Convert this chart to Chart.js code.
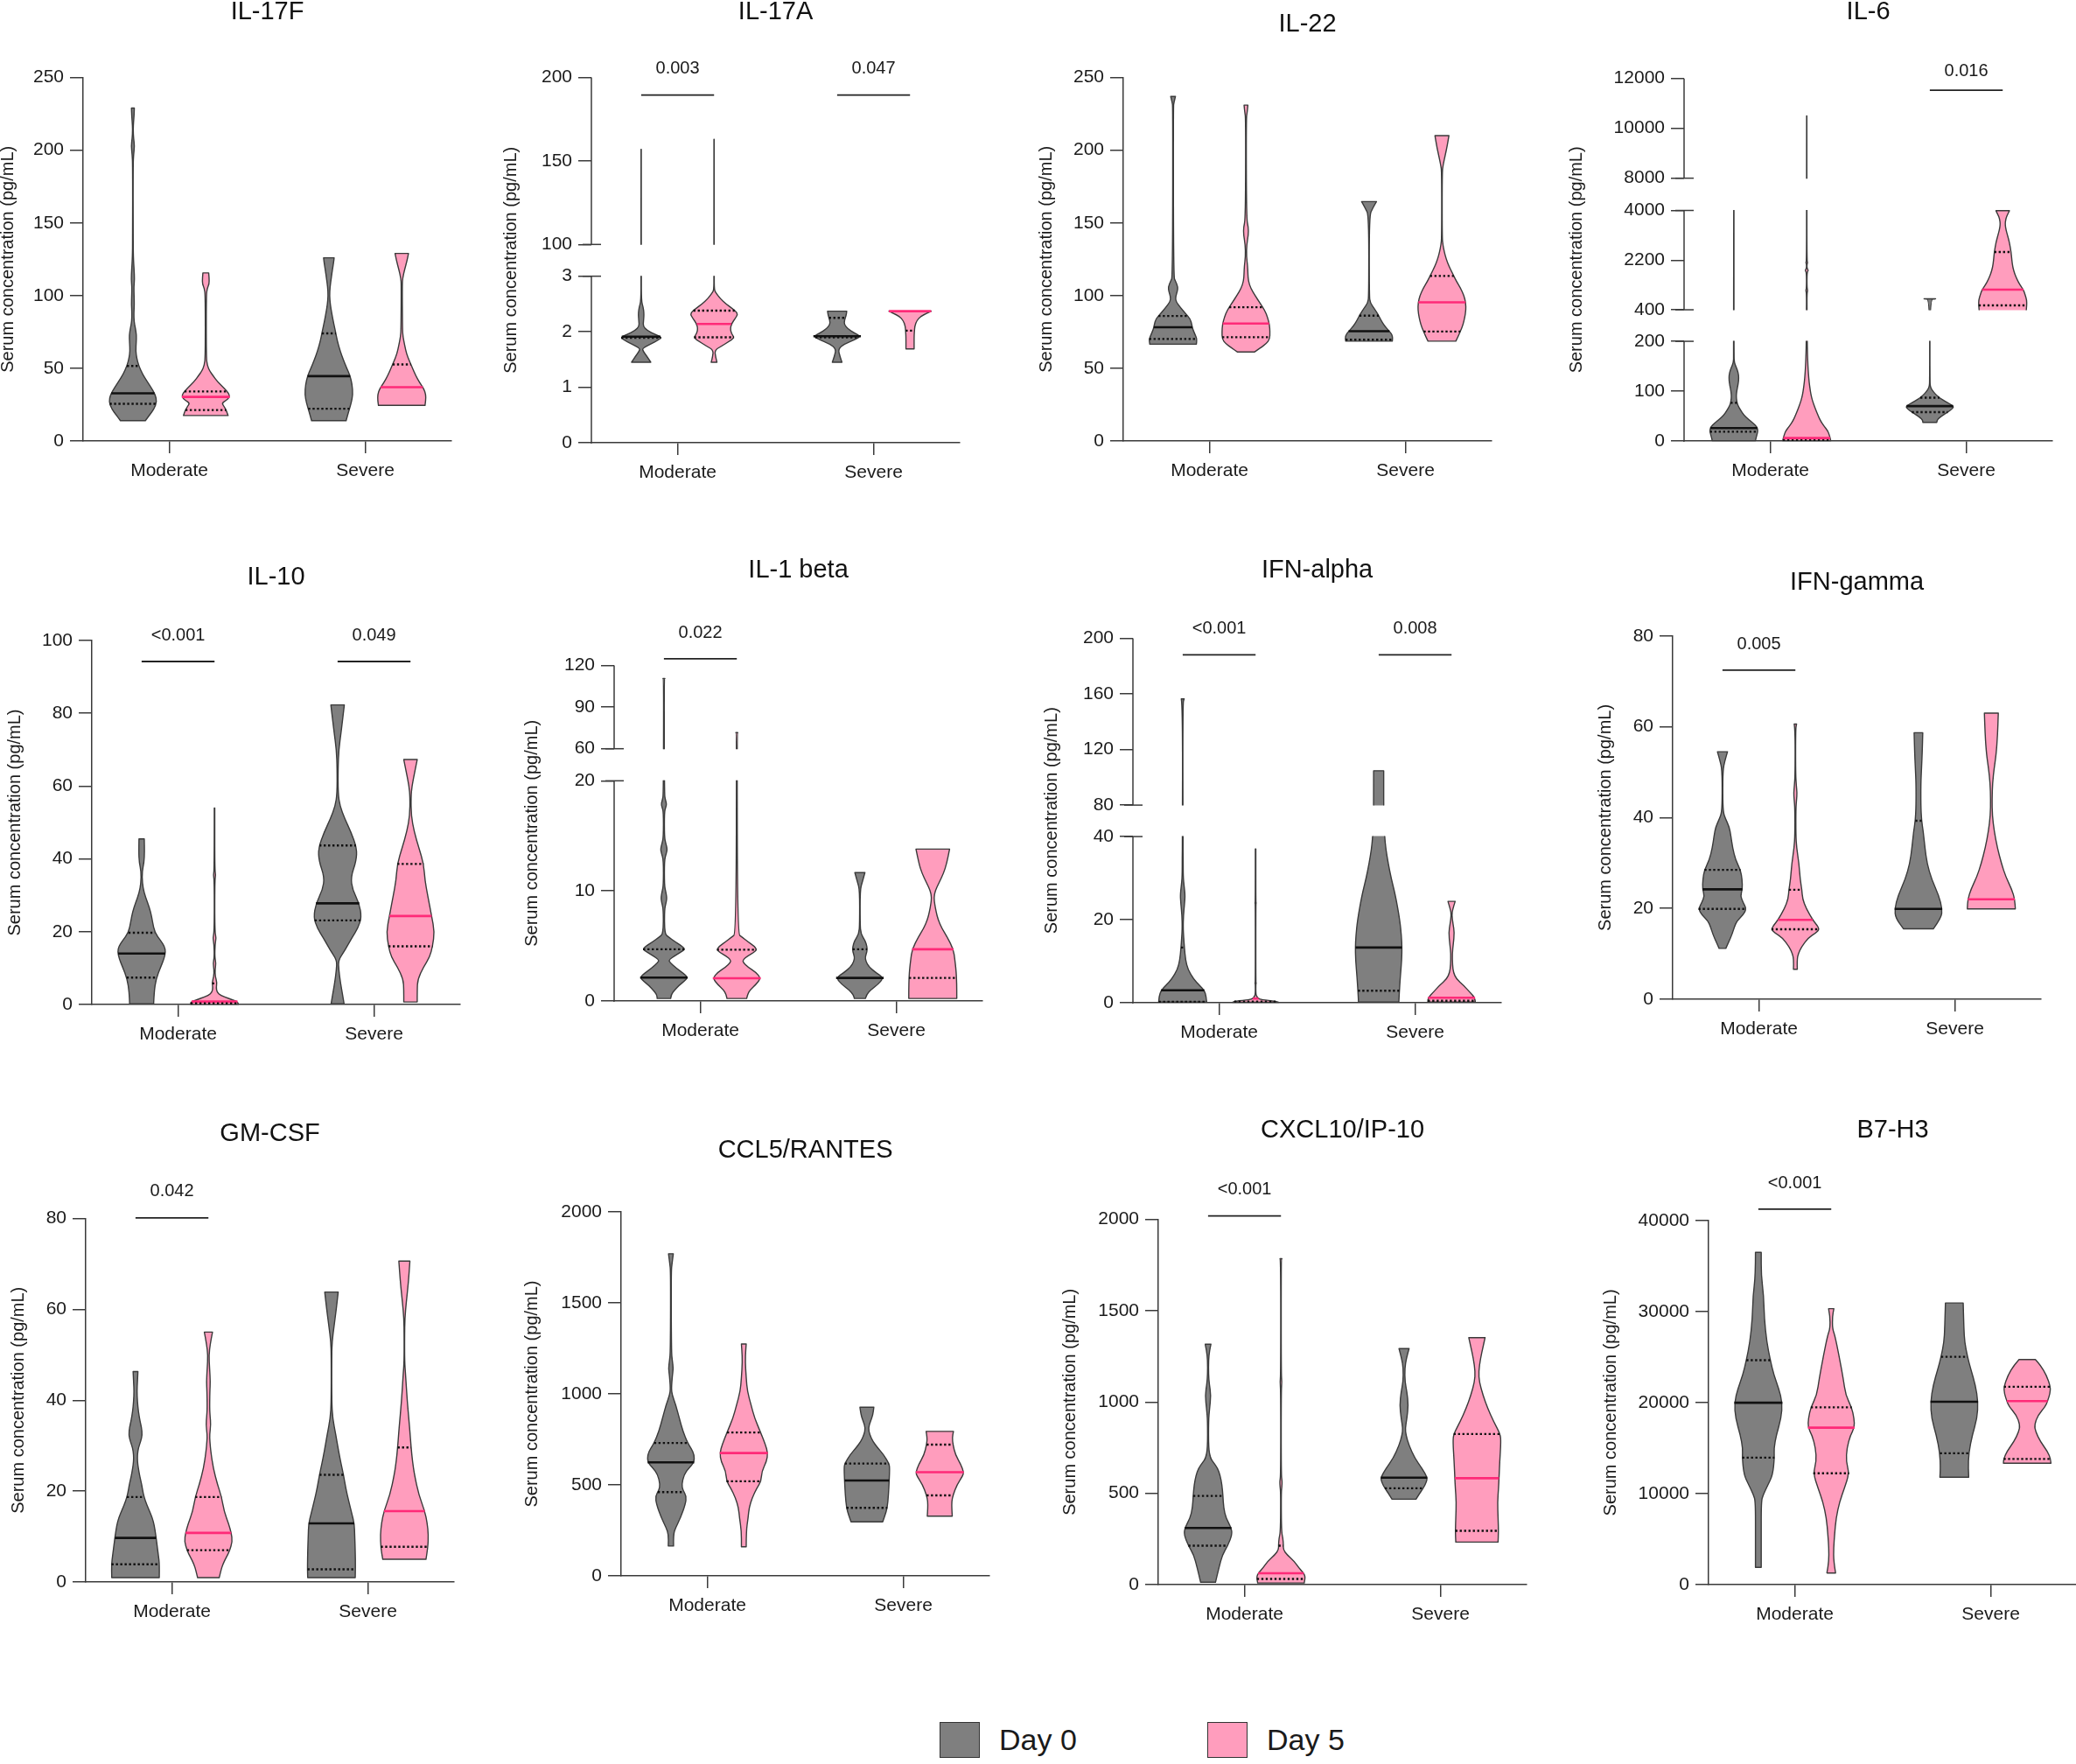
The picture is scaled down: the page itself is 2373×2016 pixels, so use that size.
<!DOCTYPE html>
<html><head><meta charset="utf-8">
<script src="https://cdn.jsdelivr.net/npm/chart.js@4.4.1/dist/chart.umd.min.js"></script>
<style>
html,body{margin:0;padding:0;background:#fff;}
body{width:2373px;height:2016px;position:relative;overflow:hidden;font-family:'Liberation Sans',Arial,sans-serif;}
canvas{position:absolute;}
.lg-box{position:absolute;box-sizing:border-box;border:1.5px solid #333;}
.lg-txt{position:absolute;font-size:34px;line-height:44px;color:#1a1a1a;white-space:nowrap;}
</style>
</head><body>
<script>
// ================= DATA =================
const CATEGORIES = ['Moderate', 'Severe'];
const SERIES = ['Day 0', 'Day 5'];
const Y_TITLE = 'Serum concentration (pg/mL)';
// violin profiles: [value, relative half-width 0..1]; stats order: [Day0 Mod, Day5 Mod, Day0 Sev, Day5 Sev]

// ---- IL-17F ----
const IL17F_TICKS = [0, 50, 100, 150, 200, 250];
const IL17F_D0_MOD = [[14,0.52],[18,0.7],[22,0.88],[27,1.0],[32,0.93],[37,0.75],[41,0.59],[46,0.4],[52,0.24],[57,0.16],[62,0.12],[68,0.14],[73,0.15],[78,0.1],[82,0.05],[88,0.04],[94,0.06],[100,0.05],[106,0.04],[111,0.07],[118,0.05],[126,0.02],[140,0.01],[190,0.01],[197,0.03],[203,0.07],[208,0.03],[214,0.01],[220,0.03],[224,0.05],[229,0.06]];
const IL17F_D5_MOD = [[17.5,0.93],[21,0.86],[24,0.75],[26,0.67],[28,0.85],[30,1.0],[33,0.95],[36,0.78],[41,0.48],[45,0.3],[48,0.17],[52,0.06],[58,0.02],[100,0.02],[105,0.06],[108,0.14],[112,0.14],[115.6,0.12]];
const IL17F_D0_SEV = [[14,0.72],[20,0.82],[26,0.93],[32,1.0],[39,0.97],[45,0.88],[50,0.75],[56,0.6],[62,0.47],[69,0.35],[75,0.28],[81,0.2],[88,0.12],[94,0.06],[100,0.03],[106,0.05],[112,0.1],[118,0.15],[123,0.2],[126,0.22]];
const IL17F_D5_SEV = [[24.5,0.97],[28,1.0],[32,1.0],[36,0.92],[40,0.75],[45,0.58],[50,0.45],[55,0.32],[60,0.2],[66,0.12],[72,0.05],[77,0.03],[108,0.02],[112,0.04],[118,0.12],[124,0.22],[129,0.28]];
const IL17F_MEDIAN = [32.8, 30.3, 44.6, 37];
const IL17F_Q1 = [25.6, 21.3, 22.2, null];
const IL17F_Q3 = [51.6, 34.1, 74, 52.7];
const IL17F_P = [null, null];

// ---- IL-17A ----
const IL17A_TICKS = [0, 1, 2, 3, 100, 150, 200];
const IL17A_D0_MOD = [[1.45,0.4],[1.55,0.25],[1.65,0.08],[1.7,0.05],[1.78,0.4],[1.85,0.72],[1.9,0.86],[1.95,0.6],[2.02,0.25],[2.1,0.08],[2.2,0.1],[2.33,0.12],[2.45,0.08],[2.55,0.01],[3.0,0.005],[157,0.005]];
const IL17A_D5_MOD = [[1.45,0.12],[1.55,0.06],[1.67,0.03],[1.75,0.35],[1.82,0.6],[1.89,0.85],[1.97,0.72],[2.05,0.68],[2.14,0.72],[2.25,0.9],[2.33,1.0],[2.42,0.75],[2.5,0.5],[2.6,0.25],[2.7,0.08],[2.75,0.01],[3.0,0.005],[163,0.005]];
const IL17A_D0_SEV = [[1.45,0.2],[1.55,0.12],[1.69,0.04],[1.78,0.3],[1.86,0.75],[1.92,0.99],[1.98,0.7],[2.05,0.45],[2.13,0.3],[2.2,0.3],[2.3,0.38],[2.37,0.4]];
const IL17A_D5_SEV = [[1.69,0.17],[1.8,0.17],[1.9,0.17],[2.0,0.18],[2.1,0.2],[2.2,0.28],[2.28,0.45],[2.33,0.7],[2.37,0.88]];
const IL17A_MEDIAN = [1.91, 2.14, 1.92, 2.37];
const IL17A_Q1 = [1.89, 1.9, 1.9, 2.02];
const IL17A_Q3 = [null, 2.38, 2.25, null];
const IL17A_P = ['0.003', '0.047'];

// ---- IL-22 ----
const IL22_TICKS = [0, 50, 100, 150, 200, 250];
const IL22_D0_MOD = [[66.6,0.97],[70,1.0],[73,0.92],[77,0.82],[80,0.78],[84,0.72],[88,0.5],[92,0.3],[96,0.12],[99,0.1],[103,0.18],[106,0.2],[110,0.1],[113,0.02],[230,0.01],[233,0.04],[237,0.1]];
const IL22_D5_MOD = [[61.2,0.35],[64,0.6],[67,0.85],[70,0.99],[75,1.0],[80,0.98],[85,0.9],[90,0.78],[95,0.58],[100,0.38],[105,0.2],[110,0.1],[115,0.08],[120,0.07],[127,0.02],[135,0.03],[142,0.1],[147,0.1],[153,0.02],[222,0.01],[226,0.05],[231,0.08]];
const IL22_D0_SEV = [[68.7,0.97],[72,1.0],[75.5,0.85],[79,0.65],[83,0.5],[87,0.38],[91,0.22],[95,0.05],[100,0.01],[155,0.01],[160,0.15],[164.7,0.31]];
const IL22_D5_SEV = [[68.7,0.58],[72,0.68],[76,0.78],[80,0.88],[85,0.95],[90,1.0],[95,0.99],[100,0.92],[105,0.78],[110,0.6],[115,0.45],[120,0.3],[125,0.18],[130,0.1],[135,0.04],[140,0.01],[185,0.01],[190,0.05],[196,0.13],[203,0.22],[210,0.29]];
const IL22_MEDIAN = [78.2, 80.8, 75.5, 95.4];
const IL22_Q1 = [70.2, 71.4, 69.7, 75.3];
const IL22_Q3 = [86, 92, 86.2, 113.5];
const IL22_P = [null, null];

// ---- IL-6 ----
const IL6_TICKS = [0, 100, 200, 400, 2200, 4000, 8000, 10000, 12000];
const IL6_D0_MOD = [[0.5,0.9],[5,0.92],[12,0.96],[20,1.0],[28,0.97],[36,0.8],[44,0.6],[52,0.42],[62,0.28],[72,0.16],[80,0.12],[90,0.1],[100,0.12],[112,0.17],[122,0.2],[132,0.2],[142,0.15],[150,0.08],[158,0.02],[170,0.005],[4000,0.005]];
const IL6_D5_MOD = [[0.5,1.0],[5,0.98],[12,0.94],[20,0.88],[30,0.72],[40,0.58],[50,0.48],[62,0.38],[75,0.28],[87,0.2],[100,0.15],[118,0.1],[135,0.07],[150,0.05],[175,0.03],[200,0.02],[400,0.01],[1000,0.01],[1100,0.04],[1200,0.01],[1750,0.01],[1830,0.07],[1900,0.01],[2050,0.01],[2110,0.04],[2170,0.01],[4000,0.005],[10500,0.005]];
const IL6_D0_SEV = [[37.4,0.29],[42,0.3],[47,0.4],[52,0.55],[58,0.75],[64,0.92],[69,1.0],[74,0.85],[80,0.62],[86,0.42],[92,0.28],[98,0.16],[104,0.07],[110,0.02],[120,0.005],[788,0.005],[790,0.24],[796,0.24]];
const IL6_D5_SEV = [[350,0.98],[400,0.98],[550,1.0],[760,1.0],[950,0.93],[1131,0.86],[1300,0.72],[1491,0.6],[1700,0.5],[1941,0.42],[2200,0.38],[2493,0.35],[2841,0.28],[3100,0.2],[3290,0.14],[3500,0.1],[3700,0.13],[3850,0.2],[3990,0.28]];
const IL6_MEDIAN = [26, 6, 70, 1131];
const IL6_Q1 = [18.7, 1.5, 58, 557];
const IL6_Q3 = [76.6, null, 87, 2493];
const IL6_P = [null, '0.016'];

// ---- IL-10 ----
const IL10_TICKS = [0, 20, 40, 60, 80, 100];
const IL10_D0_MOD = [[0.2,0.5],[3.4,0.52],[7,0.6],[10.4,0.8],[12.5,0.93],[14.5,1.0],[16,0.95],[17.5,0.8],[19.7,0.55],[22.8,0.45],[25.4,0.38],[28,0.25],[30.7,0.1],[33.4,0.03],[36.5,0.02],[39,0.1],[42,0.12],[45.5,0.11]];
const IL10_D5_MOD = [[0,0.99],[0.7,1.0],[1.6,0.6],[2.5,0.25],[3.4,0.1],[4.7,0.07],[6,0.1],[7.8,0.03],[9.5,0.02],[11.3,0.06],[13,0.01],[16.5,0.02],[18.4,0.07],[20,0.01],[34,0.01],[35.6,0.05],[37,0.01],[54,0.01]];
const IL10_D0_SEV = [[0.2,0.27],[3,0.2],[6,0.12],[9.5,0.05],[12.2,0.03],[14.8,0.3],[18.4,0.6],[21,0.85],[24,1.0],[27.8,0.9],[31.6,0.62],[35,0.55],[39.5,0.78],[43,0.8],[47.5,0.55],[51,0.3],[54.5,0.1],[58,0.02],[65,0.02],[70,0.05],[75,0.15],[82.3,0.28]];
const IL10_D5_SEV = [[0.7,0.28],[4,0.28],[6.9,0.3],[10.4,0.55],[13,0.8],[16,0.92],[20,1.0],[24.3,0.88],[29.8,0.72],[34.2,0.6],[38.6,0.55],[43,0.35],[47.5,0.15],[51.9,0.03],[57,0.02],[60,0.06],[64,0.18],[67.3,0.28]];
const IL10_MEDIAN = [14, 0.8, 27.8, 24.3];
const IL10_Q1 = [7.4, 0.3, 23.1, 16];
const IL10_Q3 = [19.7, 5.8, 43.7, 38.6];
const IL10_P = ['<0.001', '0.049'];

// ---- IL-1 beta ----
const IL1B_TICKS = [0, 10, 20, 60, 90, 120];
const IL1B_D0_MOD = [[0.23,0.28],[0.6,0.3],[1.0,0.45],[1.4,0.62],[1.8,0.85],[2.13,0.99],[2.5,0.82],[3.0,0.5],[3.5,0.25],[3.73,0.2],[4.1,0.45],[4.5,0.75],[4.7,0.87],[5.0,0.75],[5.4,0.45],[5.8,0.2],[6.1,0.03],[8.3,0.02],[9.0,0.1],[9.4,0.12],[9.9,0.08],[10.5,0.02],[12.8,0.02],[13.4,0.1],[13.8,0.14],[14.3,0.08],[14.9,0.02],[17.2,0.02],[17.6,0.08],[17.9,0.11],[18.3,0.06],[18.8,0.02],[110.5,0.01],[110.7,0.04]];
const IL1B_D5_MOD = [[0.23,0.41],[0.6,0.45],[1.0,0.55],[1.5,0.8],[2.07,1.0],[2.6,0.8],[3.1,0.45],[3.5,0.27],[3.73,0.25],[4.1,0.45],[4.4,0.7],[4.66,0.83],[5.0,0.72],[5.4,0.45],[5.8,0.22],[6.1,0.03],[71.4,0.01],[71.6,0.04]];
const IL1B_D0_SEV = [[0.23,0.23],[0.6,0.28],[1.0,0.45],[1.5,0.75],[2.1,0.99],[2.6,0.65],[3.1,0.38],[3.6,0.25],[4.0,0.22],[4.5,0.3],[4.9,0.3],[5.5,0.22],[6.1,0.04],[7,0.01],[10.1,0.01],[10.8,0.1],[11.66,0.21]];
const IL1B_D5_SEV = [[0.23,1.0],[1.0,1.0],[2.1,0.99],[3.0,0.96],[3.73,0.92],[4.7,0.86],[5.8,0.6],[6.6,0.38],[7.4,0.22],[8.1,0.14],[8.8,0.08],[9.4,0.05],[10.0,0.1],[10.7,0.25],[11.6,0.45],[12.5,0.58],[13.8,0.7]];
const IL1B_MEDIAN = [2.13, 2.07, 2.1, 4.7];
const IL1B_Q1 = [null, null, null, 2.1];
const IL1B_Q3 = [4.7, 4.66, 4.7, null];
const IL1B_P = ['0.022', null];

// ---- IFN-alpha ----
const IFNA_TICKS = [0, 20, 40, 80, 120, 160, 200];
const IFNA_D0_MOD = [[0.15,1.0],[1.5,0.98],[3.0,0.9],[4.2,0.7],[5.7,0.45],[8,0.22],[10.3,0.12],[13.3,0.07],[15.8,0.04],[18,0.02],[21,0.03],[24,0.08],[26,0.1],[28,0.06],[30.4,0.02],[35,0.02],[39,0.01],[153,0.005],[156.4,0.06]];
const IFNA_D5_MOD = [[0.1,0.97],[0.4,0.85],[0.7,0.25],[1.0,0.12],[1.4,0.06],[2.0,0.01],[4.5,0.01],[4.7,0.03],[4.9,0.01],[23.8,0.01],[24,0.03],[24.2,0.01],[37,0.01]];
const IFNA_D0_SEV = [[0.15,0.84],[2.6,0.86],[6,0.9],[10.3,0.96],[13.3,0.97],[16,0.95],[20,0.88],[25.8,0.7],[30,0.52],[33.5,0.4],[37,0.3],[40,0.25],[60,0.22],[80,0.21],[104.7,0.21]];
const IFNA_D5_SEV = [[0.15,0.99],[1.2,0.98],[2.6,0.75],[4.2,0.5],[5.7,0.2],[7.3,0.08],[9,0.04],[11.9,0.03],[14,0.07],[16.9,0.12],[19,0.06],[21.2,0.01],[22.5,0.05],[24.4,0.15]];
const IFNA_MEDIAN = [3.0, 1.0, 13.3, 1.2];
const IFNA_Q1 = [0.2, 0.3, 2.9, 0.46];
const IFNA_Q3 = [13.3, null, null, null];
const IFNA_P = ['<0.001', '0.008'];

// ---- IFN-gamma ----
const IFNG_TICKS = [0, 20, 40, 60, 80];
const IFNG_D0_MOD = [[11.2,0.14],[12.5,0.25],[14.3,0.4],[16,0.5],[17.2,0.6],[18.5,0.85],[19.9,1.0],[21.4,0.85],[22.8,0.75],[24.2,0.83],[26.4,0.82],[28.5,0.75],[30.6,0.55],[33.4,0.42],[36,0.35],[38,0.28],[39.8,0.12],[41.2,0.03],[45,0.01],[50.5,0.02],[52.5,0.1],[54.5,0.21]];
const IFNG_D5_MOD = [[6.6,0.08],[8.7,0.07],[10,0.12],[11.5,0.25],[13.6,0.55],[14.6,0.85],[15.4,1.0],[16.3,0.9],[17.5,0.72],[20,0.45],[22.1,0.3],[24.1,0.27],[26.4,0.2],[29.9,0.15],[33.4,0.05],[36.2,0.02],[42,0.02],[44,0.05],[45.4,0.07],[47,0.04],[49.7,0.01],[59.5,0.01],[60.6,0.05]];
const IFNG_D0_SEV = [[15.5,0.62],[17.9,0.95],[19.9,0.99],[22.8,0.85],[26.4,0.55],[29.9,0.36],[33.4,0.27],[37,0.2],[39.3,0.13],[42.6,0.1],[47.6,0.1],[51,0.13],[54.6,0.16],[58.7,0.18]];
const IFNG_D5_SEV = [[19.9,1.0],[22,0.98],[24.2,0.85],[27,0.6],[29.9,0.42],[33.4,0.25],[37,0.12],[40.5,0.04],[44,0.03],[47.6,0.05],[51,0.12],[53.9,0.2],[58.2,0.26],[63,0.29]];
const IFNG_MEDIAN = [24.2, 17.5, 19.9, 22];
const IFNG_Q1 = [19.9, 15.4, null, null];
const IFNG_Q3 = [28.5, 24.1, 39.3, null];
const IFNG_P = ['0.005', null];

// ---- GM-CSF ----
const GMCSF_TICKS = [0, 20, 40, 60, 80];
const GMCSF_D0_MOD = [[0.95,0.99],[3.9,1.0],[6,0.95],[8,0.9],[10.5,0.84],[12.5,0.78],[14.1,0.7],[16,0.55],[17.8,0.41],[19.5,0.32],[21.4,0.26],[23.2,0.18],[25,0.12],[26.5,0.08],[28,0.08],[29.5,0.12],[31,0.22],[32.4,0.28],[34,0.25],[35.3,0.19],[37.5,0.12],[39.7,0.08],[42,0.06],[44,0.08],[46.3,0.1]];
const GMCSF_D5_MOD = [[0.95,0.45],[2.5,0.52],[3.9,0.6],[5.5,0.75],[6.8,0.88],[9,1.0],[10.8,0.95],[12.7,0.85],[15.6,0.65],[18.7,0.55],[21.4,0.38],[25.1,0.2],[28.7,0.1],[31,0.06],[32.4,0.05],[34.6,0.1],[36.5,0.07],[38.2,0.05],[42,0.06],[44.1,0.08],[47,0.05],[49.9,0.02],[52.5,0.08],[55,0.17]];
const GMCSF_D0_SEV = [[0.95,0.99],[3.1,1.0],[6.8,0.99],[10,0.97],[12.9,0.95],[15,0.85],[17.8,0.72],[20.5,0.6],[23.6,0.5],[26,0.4],[28.7,0.3],[32.4,0.18],[36,0.05],[39.7,0.01],[50,0.01],[53,0.03],[56,0.1],[60,0.2],[63.8,0.28]];
const GMCSF_D5_SEV = [[5,0.9],[7.5,0.98],[10.5,1.0],[13,0.95],[15.6,0.85],[19.2,0.6],[23.6,0.42],[26.5,0.34],[29.6,0.28],[33.9,0.22],[39.7,0.12],[45.6,0.05],[48.5,0.01],[54.3,0.01],[58,0.02],[61.6,0.08],[66,0.17],[70.6,0.23]];
const GMCSF_MEDIAN = [9.7, 10.8, 12.9, 15.6];
const GMCSF_Q1 = [3.9, 7, 2.8, 7.75];
const GMCSF_Q3 = [18.7, 18.7, 23.6, 29.6];
const GMCSF_P = ['0.042', null];

// ---- CCL5/RANTES ----
const CCL5_TICKS = [0, 500, 1000, 1500, 2000];
const CCL5_D0_MOD = [[164,0.11],[228,0.1],[265,0.2],[319,0.4],[392,0.6],[438,0.65],[470,0.5],[502,0.45],[557,0.55],[593,0.75],[624,0.97],[666,0.97],[700,0.85],[730,0.7],[794,0.5],[867,0.35],[940,0.2],[995,0.05],[1031,0.02],[1100,0.06],[1141,0.1],[1180,0.06],[1232,0.02],[1670,0.01],[1720,0.05],[1770,0.1]];
const CCL5_D5_MOD = [[160,0.1],[246,0.1],[319,0.18],[374,0.22],[429,0.35],[484,0.55],[520,0.72],[575,0.75],[630,0.95],[675,1.0],[721,0.9],[788,0.7],[867,0.45],[940,0.3],[1013,0.15],[1086,0.1],[1177,0.06],[1240,0.08],[1274,0.1]];
const CCL5_D0_SEV = [[297,0.66],[330,0.75],[374,0.85],[447,0.9],[524,0.93],[593,0.95],[617,0.92],[666,0.7],[703,0.45],[739,0.25],[776,0.12],[812,0.06],[849,0.15],[885,0.25],[927,0.29]];
const CCL5_D5_SEV = [[328,0.52],[370,0.5],[410,0.5],[442,0.55],[502,0.72],[548,0.95],[570,1.0],[611,0.88],[666,0.65],[721,0.55],[760,0.52],[794,0.57]];
const CCL5_MEDIAN = [624, 675, 524, 570];
const CCL5_Q1 = [460, 520, 374, 442];
const CCL5_Q3 = [730, 788, 617, 721];
const CCL5_P = [null, null];

// ---- CXCL10/IP-10 ----
const CXCL10_TICKS = [0, 500, 1000, 1500, 2000];
const CXCL10_D0_MOD = [[13,0.31],[91,0.45],[164,0.6],[213,0.82],[273,1.0],[310,0.97],[364,0.75],[419,0.65],[486,0.62],[546,0.58],[600,0.5],[637,0.4],[670,0.22],[692,0.1],[747,0.02],[900,0.02],[960,0.06],[1038,0.12],[1100,0.05],[1150,0.02],[1230,0.02],[1280,0.06],[1317,0.12]];
const CXCL10_D5_MOD = [[9,0.97],[31,1.0],[45,1.0],[62,0.95],[91,0.75],[128,0.55],[164,0.25],[191,0.1],[219,0.1],[255,0.08],[291,0.02],[500,0.01],[540,0.04],[565,0.05],[600,0.01],[1060,0.01],[1111,0.04],[1150,0.01],[1780,0.01],[1785,0.04]];
const CXCL10_D0_SEV = [[468,0.5],[500,0.65],[528,0.8],[560,0.93],[586,0.97],[637,0.75],[692,0.45],[765,0.2],[820,0.08],[856,0.05],[911,0.12],[984,0.18],[1056,0.12],[1111,0.04],[1184,0.03],[1240,0.1],[1293,0.21]];
const CXCL10_D5_SEV = [[233,0.88],[291,0.9],[364,0.88],[455,0.86],[528,0.9],[583,0.92],[674,0.95],[783,1.0],[825,0.97],[892,0.7],[965,0.45],[1038,0.25],[1111,0.1],[1166,0.07],[1239,0.15],[1300,0.25],[1353,0.34]];
const CXCL10_MEDIAN = [310, 62, 586, 583];
const CXCL10_Q1 = [213, 31, 528, 295];
const CXCL10_Q3 = [486, 213, null, 825];
const CXCL10_P = ['<0.001', null];

// ---- B7-H3 ----
const B7H3_TICKS = [0, 10000, 20000, 30000, 40000];
const B7H3_D0_MOD = [[1900,0.12],[5000,0.12],[9130,0.12],[9860,0.2],[10960,0.4],[12050,0.6],[13950,0.67],[14970,0.65],[16430,0.75],[18260,0.95],[19980,1.0],[21550,0.85],[23010,0.65],[24650,0.5],[26660,0.35],[29220,0.25],[31780,0.22],[33970,0.12],[36490,0.12]];
const B7H3_D5_MOD = [[1280,0.18],[2560,0.1],[4020,0.1],[5500,0.14],[7300,0.2],[9130,0.35],[10590,0.55],[12230,0.75],[13510,0.62],[14970,0.65],[16430,0.8],[17240,0.97],[18260,0.95],[19470,0.85],[20820,0.6],[22640,0.5],[25200,0.32],[27390,0.15],[28120,0.05],[29500,0.05],[30310,0.11]];
const B7H3_D0_SEV = [[11800,0.6],[12780,0.58],[14430,0.6],[16430,0.75],[18260,0.95],[20090,0.99],[21910,0.88],[23740,0.68],[25020,0.55],[26660,0.43],[28120,0.4],[30930,0.37]];
const B7H3_D5_SEV = [[13330,0.99],[13800,0.98],[14610,0.85],[15710,0.55],[16800,0.35],[17530,0.3],[18630,0.45],[19540,0.75],[20160,0.85],[21000,0.95],[21730,0.97],[23010,0.8],[24110,0.55],[24730,0.34]];
const B7H3_MEDIAN = [19980, 17240, 20090, 20160];
const B7H3_Q1 = [13950, 12230, 14430, 13800];
const B7H3_Q3 = [24650, 19470, 25020, 21730];
const B7H3_P = ['<0.001', null];

// ================= STYLE / LAYOUT =================
const FILLS = ['#7f7f7f', '#ff9dbd'];
const MEDIAN_COLORS = ['#111111', '#ff2a78'];
const QUART_COLOR = '#111111';
const OUTLINE = '#3a3a3a';
const AXIS = '#3a3a3a';
const TEXT = '#1a1a1a';
const HW = 0.1225;   // max half width (x units)
const OFF = 0.186;   // violin offset from category (x units)
const CAT_SPACING = 224;
const X_MIN = 0.56, X_MAX = 2.44;

const PANELS = [
  {title:'IL-17F', ticks:IL17F_TICKS, ranges:[[0,250]], fr:[[0,1]], prof:[IL17F_D0_MOD,IL17F_D5_MOD,IL17F_D0_SEV,IL17F_D5_SEV], med:IL17F_MEDIAN, q1:IL17F_Q1, q3:IL17F_Q3, p:IL17F_P, cat1:194, top:88.6, bottom:504, ty:14.2, d:86, pt:-10, pb:20},
  {title:'IL-17A', ticks:IL17A_TICKS, ranges:[[0,3],[100,200]], fr:[[0,0.456],[0.543,1]], prof:[IL17A_D0_MOD,IL17A_D5_MOD,IL17A_D0_SEV,IL17A_D5_SEV], med:IL17A_MEDIAN, q1:IL17A_Q1, q3:IL17A_Q3, p:IL17A_P, cat1:774.7, top:88.6, bottom:506, ty:14.2, d:92, pt:-10, pb:20},
  {title:'IL-22', ticks:IL22_TICKS, ranges:[[0,250]], fr:[[0,1]], prof:[IL22_D0_MOD,IL22_D5_MOD,IL22_D0_SEV,IL22_D5_SEV], med:IL22_MEDIAN, q1:IL22_Q1, q3:IL22_Q3, p:IL22_P, cat1:1383, top:88.6, bottom:504, ty:28.4, d:88, pt:-10, pb:20},
  {title:'IL-6', ticks:IL6_TICKS, ranges:[[0,200],[400,4000],[8000,12000]], fr:[[0,0.275],[0.362,0.636],[0.725,1]], prof:[IL6_D0_MOD,IL6_D5_MOD,IL6_D0_SEV,IL6_D5_SEV], med:IL6_MEDIAN, q1:IL6_Q1, q3:IL6_Q3, p:IL6_P, cat1:2024, top:89.7, bottom:503.5, ty:14.2, d:123, pt:-8, pb:13.5},
  {title:'IL-10', ticks:IL10_TICKS, ranges:[[0,100]], fr:[[0,1]], prof:[IL10_D0_MOD,IL10_D5_MOD,IL10_D0_SEV,IL10_D5_SEV], med:IL10_MEDIAN, q1:IL10_Q1, q3:IL10_Q3, p:IL10_P, cat1:203.4, top:732, bottom:1148, ty:660.4, d:88, pt:-5.5, pb:24},
  {title:'IL-1 beta', ticks:IL1B_TICKS, ranges:[[0,20],[60,120]], fr:[[0,0.6564],[0.752,1]], prof:[IL1B_D0_MOD,IL1B_D5_MOD,IL1B_D0_SEV,IL1B_D5_SEV], med:IL1B_MEDIAN, q1:IL1B_Q1, q3:IL1B_Q3, p:IL1B_P, cat1:801, top:760.6, bottom:1144.2, ty:652.3, d:93.6, pt:-37, pb:-7.7},
  {title:'IFN-alpha', ticks:IFNA_TICKS, ranges:[[0,40],[80,200]], fr:[[0,0.4559],[0.5422,1]], prof:[IFNA_D0_MOD,IFNA_D5_MOD,IFNA_D0_SEV,IFNA_D5_SEV], med:IFNA_MEDIAN, q1:IFNA_Q1, q3:IFNA_Q3, p:IFNA_P, cat1:1393.6, top:729.4, bottom:1146.4, ty:652.3, d:93, pt:-11, pb:19},
  {title:'IFN-gamma', ticks:IFNG_TICKS, ranges:[[0,80]], fr:[[0,1]], prof:[IFNG_D0_MOD,IFNG_D5_MOD,IFNG_D0_SEV,IFNG_D5_SEV], med:IFNG_MEDIAN, q1:IFNG_Q1, q3:IFNG_Q3, p:IFNG_P, cat1:2011, top:726.8, bottom:1142.4, ty:665.9, d:76.6, pt:10, pb:39},
  {title:'GM-CSF', ticks:GMCSF_TICKS, ranges:[[0,80]], fr:[[0,1]], prof:[GMCSF_D0_MOD,GMCSF_D5_MOD,GMCSF_D0_SEV,GMCSF_D5_SEV], med:GMCSF_MEDIAN, q1:GMCSF_Q1, q3:GMCSF_Q3, p:GMCSF_P, cat1:197, top:1392.5, bottom:1808, ty:1296, d:76.5, pt:-30.7, pb:-0.7},
  {title:'CCL5/RANTES', ticks:CCL5_TICKS, ranges:[[0,2000]], fr:[[0,1]], prof:[CCL5_D0_MOD,CCL5_D5_MOD,CCL5_D0_SEV,CCL5_D5_SEV], med:CCL5_MEDIAN, q1:CCL5_Q1, q3:CCL5_Q3, p:CCL5_P, cat1:809, top:1385, bottom:1801.2, ty:1315, d:101.6, pt:-30, pb:0},
  {title:'CXCL10/IP-10', ticks:CXCL10_TICKS, ranges:[[0,2000]], fr:[[0,1]], prof:[CXCL10_D0_MOD,CXCL10_D5_MOD,CXCL10_D0_SEV,CXCL10_D5_SEV], med:CXCL10_MEDIAN, q1:CXCL10_Q1, q3:CXCL10_Q3, p:CXCL10_P, cat1:1422.7, top:1393.7, bottom:1810.7, ty:1292.3, d:100.7, pt:-34, pb:-4},
  {title:'B7-H3', ticks:B7H3_TICKS, ranges:[[0,40000]], fr:[[0,1]], prof:[B7H3_D0_MOD,B7H3_D5_MOD,B7H3_D0_SEV,B7H3_D5_SEV], med:B7H3_MEDIAN, q1:B7H3_Q1, q3:B7H3_Q3, p:B7H3_P, cat1:2052, top:1394.8, bottom:1810.7, ty:1292.3, d:112, pt:-42, pb:-13},
];

// ================= SCALE WITH AXIS BREAKS =================
const SEG = {};   // canvas id -> [[vmin, vmax, fracMin, fracMax], ...]
const PCFG = {};  // canvas id -> p-value annotation config

function mapFrac(v, segs) {
  for (let i = 0; i < segs.length; i++) {
    const [a, b, fa, fb] = segs[i];
    if (v <= b || i === segs.length - 1) {
      if (v >= a || i === 0) return fa + (v - a) / (b - a) * (fb - fa);
      const [, pb, , pfb] = segs[i - 1];
      return pfb + (v - pb) / (a - pb) * (fa - pfb);
    }
  }
  return 0;
}

class BrokenScale extends Chart.LinearScale {
  getPixelForValue(value) {
    if (value === null || value === undefined || isNaN(value)) return NaN;
    return this.getPixelForDecimal(mapFrac(value, SEG[this.chart.canvas.id]));
  }
  getValueForPixel(pixel) {
    const f = this.getDecimalForPixel(pixel);
    for (const [a, b, fa, fb] of SEG[this.chart.canvas.id]) {
      if (f >= fa && f <= fb) return a + (f - fa) / (fb - fa) * (b - a);
    }
    return NaN;
  }
}
BrokenScale.id = 'broken';
BrokenScale.defaults = {};
Chart.register(BrokenScale);

// ================= PLUGINS =================
function sidePath(ctx, pts, move) {
  const n = pts.length;
  if (move) ctx.moveTo(pts[0][0], pts[0][1]); else ctx.lineTo(pts[0][0], pts[0][1]);
  if (n < 3) { if (n === 2) ctx.lineTo(pts[1][0], pts[1][1]); return; }
  for (let i = 1; i < n - 1; i++) {
    const mx = (pts[i][0] + pts[i + 1][0]) / 2, my = (pts[i][1] + pts[i + 1][1]) / 2;
    ctx.quadraticCurveTo(pts[i][0], pts[i][1], mx, my);
  }
  ctx.lineTo(pts[n - 1][0], pts[n - 1][1]);
}

const violinPlugin = {
  id: 'violins',
  beforeDatasetsDraw(chart) {
    const ctx = chart.ctx, area = chart.chartArea, ys = chart.scales.y;
    const segs = SEG[chart.canvas.id];
    chart.data.datasets.forEach((ds, i) => {
      if (!ds.violin) return;
      const pts = chart.getDatasetMeta(i).data.map(p => [p.x, p.y]);
      const n = pts.length / 2;
      const right = pts.slice(0, n), left = pts.slice(n);
      segs.forEach(([a, b]) => {
        const yTop = ys.getPixelForValue(b), yBot = ys.getPixelForValue(a);
        ctx.save();
        ctx.beginPath();
        ctx.rect(area.left, yTop - 0.5, area.right - area.left, yBot - yTop + 1);
        ctx.clip();
        ctx.beginPath();
        sidePath(ctx, right, true);
        sidePath(ctx, left, false);
        ctx.closePath();
        ctx.fillStyle = ds.violinFill;
        ctx.fill();
        ctx.lineWidth = 1.4;
        ctx.lineJoin = 'round';
        ctx.strokeStyle = OUTLINE;
        ctx.stroke();
        ctx.restore();
      });
    });
  }
};

const breakAxisPlugin = {
  id: 'breakAxis',
  beforeDatasetsDraw(chart) {
    const segs = SEG[chart.canvas.id];
    if (segs.length < 2) return;
    const ys = chart.scales.y, x = chart.chartArea.left, ctx = chart.ctx;
    ctx.save();
    ctx.strokeStyle = AXIS; ctx.lineWidth = 1.5;
    segs.forEach(([a, b], i) => {
      const y0 = ys.getPixelForValue(a), y1 = ys.getPixelForValue(b);
      ctx.beginPath(); ctx.moveTo(x, y0 + (i === 0 ? 0.75 : 0)); ctx.lineTo(x, y1); ctx.stroke();
      if (i > 0) { ctx.beginPath(); ctx.moveTo(x - 10, y0); ctx.lineTo(x + 11, y0); ctx.stroke(); }
      if (i < segs.length - 1) { ctx.beginPath(); ctx.moveTo(x - 10, y1); ctx.lineTo(x + 11, y1); ctx.stroke(); }
    });
    ctx.restore();
  }
};

const pvalPlugin = {
  id: 'pvals',
  afterDatasetsDraw(chart) {
    const cfg = PCFG[chart.canvas.id];
    if (!cfg) return;
    const xs = chart.scales.x, top = chart.chartArea.top, ctx = chart.ctx;
    cfg.labels.forEach((txt, i) => {
      if (!txt) return;
      const c = i + 1;
      const x0 = xs.getPixelForValue(c - OFF), x1 = xs.getPixelForValue(c + OFF);
      ctx.save();
      ctx.strokeStyle = '#222'; ctx.lineWidth = 1.8;
      ctx.beginPath(); ctx.moveTo(x0, top + cfg.barOff); ctx.lineTo(x1, top + cfg.barOff); ctx.stroke();
      ctx.fillStyle = TEXT;
      ctx.font = "20px 'Liberation Sans', Arial, sans-serif";
      ctx.textAlign = 'center'; ctx.textBaseline = 'middle';
      ctx.fillText(txt, (x0 + x1) / 2, top + cfg.textOff);
      ctx.restore();
    });
  }
};

// ================= BUILD =================
function widthAt(prof, v) {
  if (v <= prof[0][0]) return prof[0][1];
  for (let i = 1; i < prof.length; i++) {
    if (v <= prof[i][0]) {
      const [a, wa] = prof[i - 1], [b, wb] = prof[i];
      return wa + (v - a) / (b - a) * (wb - wa);
    }
  }
  return prof[prof.length - 1][1];
}

function buildDatasets(P) {
  const out = [];
  P.prof.forEach((prof, k) => {
    const cat = k < 2 ? 1 : 2, day = k % 2;
    const c = cat + (day ? OFF : -OFF);
    const right = prof.map(([v, w]) => ({x: c + w * HW, y: v}));
    const left = prof.slice().reverse().map(([v, w]) => ({x: c - w * HW, y: v}));
    out.push({label: SERIES[day] + ' ' + CATEGORIES[cat - 1], data: right.concat(left), violin: true, violinFill: FILLS[day],
      showLine: false, pointRadius: 0, pointHoverRadius: 0, pointHitRadius: 0});
  });
  P.prof.forEach((prof, k) => {
    const cat = k < 2 ? 1 : 2, day = k % 2;
    const c = cat + (day ? OFF : -OFF);
    [[P.q1[k], 'q'], [P.q3[k], 'q'], [P.med[k], 'm']].forEach(([v, t]) => {
      if (v === null || v === undefined) return;
      const w = widthAt(prof, v) * HW;
      out.push({data: [{x: c - w, y: v}, {x: c + w, y: v}], showLine: true, pointRadius: 0, pointHoverRadius: 0,
        borderColor: t === 'm' ? MEDIAN_COLORS[day] : QUART_COLOR,
        borderWidth: t === 'm' ? 2.6 : 2.4,
        borderDash: t === 'm' ? [] : [2.4, 2.6],
        borderCapStyle: 'butt'});
    });
  });
  return out;
}

Chart.defaults.font.family = "'Liberation Sans', Arial, sans-serif";
Chart.defaults.color = TEXT;

const PLOT_W = (X_MAX - X_MIN) * CAT_SPACING;
const X_H = 60, PAD_R = 30, TITLE_SIZE = 29, TITLE_LH = TITLE_SIZE * 1.2, YT_SIZE = 20;

PANELS.forEach((P, idx) => {
  const id = 'panel' + idx;
  SEG[id] = P.ranges.map((r, i) => [r[0], r[1], P.fr[i][0], P.fr[i][1]]);
  PCFG[id] = {labels: P.p, textOff: P.pt, barOff: P.pb};
  const broken = P.ranges.length > 1;
  const AX = Math.round(P.cat1 - (1 - X_MIN) * CAT_SPACING);
  const W = Math.round(P.d + YT_SIZE * 1.2 / 2);
  const cTop = Math.round(P.ty - TITLE_LH / 2);
  const titlePadB = P.top - cTop - TITLE_LH;
  const cW = Math.round(W + PLOT_W + PAD_R);
  const padR = cW - W - PLOT_W;
  const cH = Math.round(P.bottom - cTop + X_H);
  const cv = document.createElement('canvas');
  cv.id = id; cv.width = cW; cv.height = cH;
  cv.style.left = (AX - W) + 'px'; cv.style.top = cTop + 'px';
  cv.style.width = cW + 'px'; cv.style.height = cH + 'px';
  document.body.appendChild(cv);
  const yMin = P.ranges[0][0], yMax = P.ranges[P.ranges.length - 1][1];
  new Chart(cv, {
    type: 'scatter',
    data: {datasets: buildDatasets(P)},
    plugins: [breakAxisPlugin, violinPlugin, pvalPlugin],
    options: {
      responsive: false, animation: false, events: [],
      layout: {padding: {left: 0, top: 0, bottom: 0, right: padR}, autoPadding: false},
      plugins: {
        legend: {display: false}, tooltip: {enabled: false},
        title: {display: true, text: P.title, fullSize: false, color: '#111',
          font: {size: TITLE_SIZE, weight: 'normal'}, padding: {top: 0, bottom: titlePadB}}
      },
      scales: {
        x: {type: 'linear', min: X_MIN, max: X_MAX, bounds: 'data',
          afterBuildTicks: s => { s.ticks = [{value: 1}, {value: 2}]; },
          afterFit: s => { s.height = X_H; },
          ticks: {autoSkip: false, maxRotation: 0, padding: 8, font: {size: 21}, color: TEXT,
            callback: (v, i) => CATEGORIES[i]},
          grid: {display: true, drawOnChartArea: false, drawTicks: true, tickLength: 14, color: AXIS, lineWidth: 1.5},
          border: {display: true, color: AXIS, width: 1.5}
        },
        y: {type: 'broken', min: yMin, max: yMax, bounds: 'data',
          afterBuildTicks: s => { s.ticks = P.ticks.map(v => ({value: v})); },
          afterFit: s => { s.width = W; },
          ticks: {autoSkip: false, padding: 7, font: {size: 21}, color: TEXT, callback: v => String(v)},
          grid: {display: true, drawOnChartArea: false, drawTicks: true, tickLength: 15, color: AXIS, lineWidth: 1.5},
          border: {display: !broken, color: AXIS, width: 1.5},
          title: {display: true, text: Y_TITLE, font: {size: YT_SIZE}, color: TEXT, padding: {top: 0, bottom: 0}}
        }
      }
    }
  });
});

// ================= LEGEND =================
const LEGEND_POS = [[1074, 1142], [1380, 1448]];
SERIES.forEach((name, i) => {
  const box = document.createElement('div');
  box.className = 'lg-box';
  box.style.cssText = `left:${LEGEND_POS[i][0]}px;top:1968px;width:46px;height:41px;background:${FILLS[i]};`;
  document.body.appendChild(box);
  const t = document.createElement('div');
  t.className = 'lg-txt';
  t.style.cssText = `left:${LEGEND_POS[i][1]}px;top:1966px;`;
  t.textContent = name;
  document.body.appendChild(t);
});
</script>
</body></html>
